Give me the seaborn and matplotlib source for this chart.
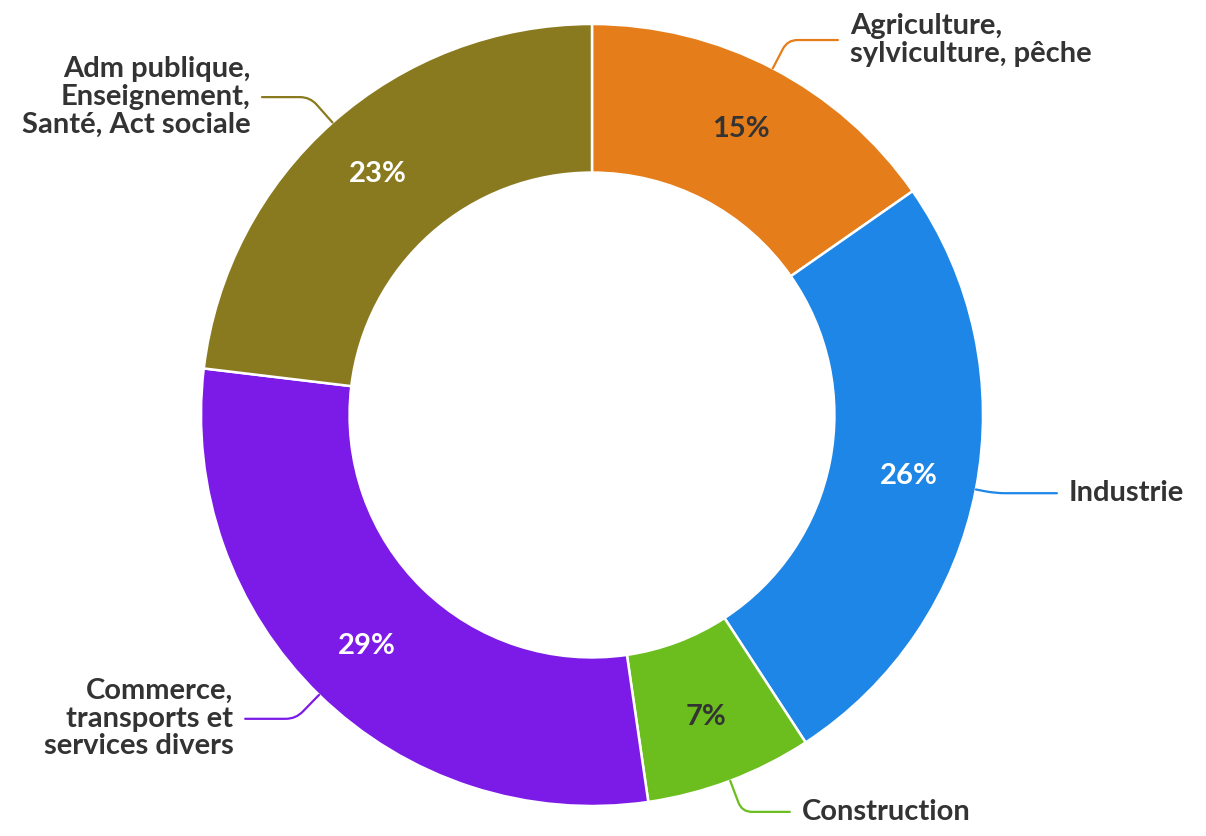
import numpy as np
import matplotlib
matplotlib.use("Agg")
import matplotlib.pyplot as plt
import seaborn as sns

# --- data ---
secteurs = [
    "Agriculture,\nsylviculture, pêche",
    "Industrie",
    "Construction",
    "Commerce,\ntransports et\nservices divers",
    "Adm publique,\nEnseignement,\nSanté, Act sociale",
]
parts = [15.3, 25.5, 6.9, 29.2, 23.1]
pct_labels = ["15%", "26%", "7%", "29%", "23%"]
couleurs = ["#E57D1A", "#1E86E6", "#6BBE1E", "#7C1AE8", "#8A7A1F"]
pct_couleurs = ["#333333", "white", "#333333", "white", "white"]

# end of each leader line (data units, radius 1 = outer ring)
label_xy = [(0.629, 0.959), (1.189, -0.20), (0.506, -1.015), (-0.887, -0.777), (-0.844, 0.813)]

sns.set_theme(style="white")
plt.rcParams["font.family"] = ["Lato", "DejaVu Sans"]

W, H = 1206, 836
fig = plt.figure(figsize=(W / 100, H / 100), dpi=100)
cx, cy, R = 592, 415, 391
ax = fig.add_axes([(cx - R) / W, (H - cy - R) / H, 2 * R / W, 2 * R / H])

pal = sns.color_palette(couleurs)
wedges, texts = ax.pie(
    parts,
    colors=pal,
    startangle=90,
    counterclock=False,
    radius=1.0,
    wedgeprops=dict(width=0.38, edgecolor="white", linewidth=1.8),
)

for w, pl, pc in zip(wedges, pct_labels, pct_couleurs):
    ang = np.radians((w.theta1 + w.theta2) / 2.0)
    ax.text(0.825 * np.cos(ang), 0.825 * np.sin(ang), pl, ha="center", va="center",
            fontsize=21, fontweight="bold", color=pc)

for w, lab, (lx, ly), c in zip(wedges, secteurs, label_xy, couleurs):
    ang = (w.theta1 + w.theta2) / 2.0
    ex, ey = np.cos(np.radians(ang)), np.sin(np.radians(ang))
    ax.annotate(
        "",
        xy=(ex, ey),
        xytext=(lx, ly),
        arrowprops=dict(
            arrowstyle="-",
            color=c,
            lw=1.6,
            shrinkA=0,
            shrinkB=0,
            connectionstyle=f"angle,angleA=0,angleB={ang},rad=10",
        ),
        annotation_clip=False,
    )
    ha = "left" if lx > 0 else "right"
    off = 0.03 if lx > 0 else -0.03
    ax.text(lx + off, ly, lab, ha=ha, va="center", fontsize=21, fontweight="bold",
            color="#333333", linespacing=1.08, clip_on=False)

ax.set_xlim(-1, 1)
ax.set_ylim(-1, 1)
ax.set_aspect("equal")
ax.axis("off")

plt.savefig("out.png", dpi=100, facecolor="white")
plt.close()
